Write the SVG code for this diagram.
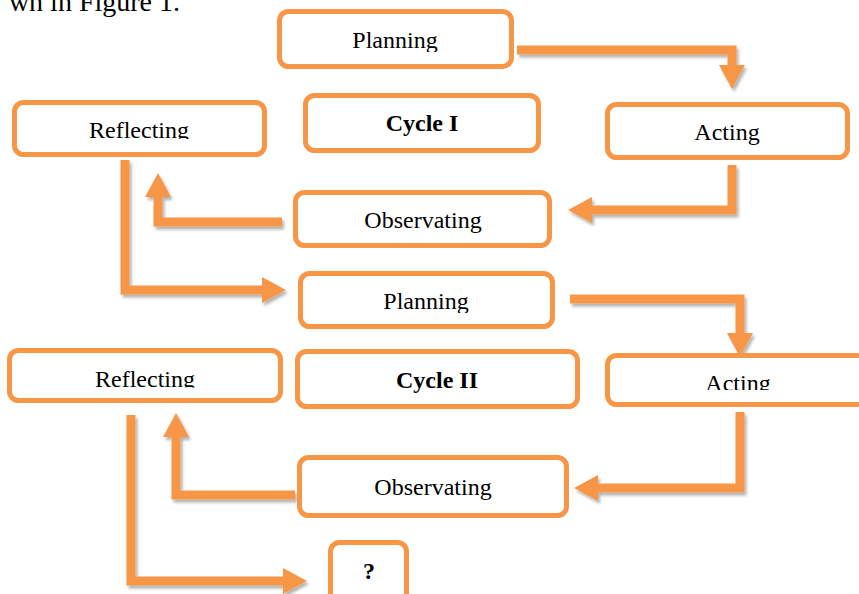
<svg xmlns="http://www.w3.org/2000/svg" width="859" height="594" viewBox="0 0 859 594">
<style>
.box{fill:#fff;stroke:#F79646;stroke-width:5}
.t{font-family:"Liberation Serif","Times New Roman",serif;font-size:24px;fill:#000;text-anchor:middle}
.b{font-weight:bold}
.c{fill:none;stroke:#F79646;stroke-width:9;stroke-linejoin:miter}
</style>
<defs>
<marker id="ah" viewBox="0 0 24 26" refX="0" refY="13" markerWidth="24" markerHeight="26" markerUnits="userSpaceOnUse" orient="auto">
<path d="M0,0 L24,13 L0,26 Z" fill="#F79646"/>
</marker>
<filter id="sh" x="-10%" y="-10%" width="130%" height="130%">
<feDropShadow dx="2" dy="3" stdDeviation="1.5" flood-color="#000" flood-opacity="0.3"/>
</filter>
<clipPath id="cp1"><rect x="280" y="12" width="230" height="40"/></clipPath>
<clipPath id="cr1"><rect x="15" y="100" width="250" height="39"/></clipPath>
<clipPath id="co1"><rect x="295" y="190" width="255" height="41.5"/></clipPath>
<clipPath id="cp2"><rect x="300" y="271" width="253" height="42"/></clipPath>
<clipPath id="cr2"><rect x="10" y="348" width="270" height="39.5"/></clipPath>
<clipPath id="ca2"><rect x="608" y="353" width="251" height="37"/></clipPath>
</defs>
<rect width="859" height="594" fill="#fff"/>
<text class="t" x="180" y="11" style="font-size:28px;text-anchor:end">wn in Figure 1.</text>
<g id="connectors" filter="url(#sh)">
<path class="c" d="M517,50 H732 V65" marker-end="url(#ah)"/>
<path class="c" d="M732,165 V210 H592" marker-end="url(#ah)"/>
<path class="c" d="M282,222 H158 V197" marker-end="url(#ah)"/>
<path class="c" d="M125,160 V290 H262" marker-end="url(#ah)"/>
<path class="c" d="M570,299 H740 V333" marker-end="url(#ah)"/>
<path class="c" d="M740,412 V488 H598" marker-end="url(#ah)"/>
<path class="c" d="M295,495 H176 V437" marker-end="url(#ah)"/>
<path class="c" d="M131,415 V581 H283" marker-end="url(#ah)"/>
</g>
<g id="planning1"><rect class="box" x="279.5" y="11.5" width="232" height="55" rx="9"/><text class="t" x="395" y="48" clip-path="url(#cp1)">Planning</text></g>
<g id="reflecting1"><rect class="box" x="14.5" y="102.5" width="250" height="52" rx="9"/><text class="t" x="139" y="138" clip-path="url(#cr1)">Reflecting</text></g>
<g id="cycle1"><rect class="box" x="305.5" y="95.5" width="233" height="55" rx="9"/><text class="t b" x="422" y="131">Cycle I</text></g>
<g id="acting1"><rect class="box" x="607.5" y="104.5" width="240" height="53" rx="9"/><text class="t" x="727" y="140">Acting</text></g>
<g id="observating1"><rect class="box" x="295.5" y="192.5" width="254" height="53" rx="9"/><text class="t" x="423" y="228">Observating</text></g>
<g id="planning2"><rect class="box" x="300.5" y="273.5" width="252" height="53" rx="9"/><text class="t" x="426" y="309" clip-path="url(#cp2)">Planning</text></g>
<g id="reflecting2"><rect class="box" x="9.5" y="350.5" width="271" height="50" rx="9"/><text class="t" x="145" y="386.5" clip-path="url(#cr2)">Reflecting</text></g>
<g id="cycle2"><rect class="box" x="297.5" y="351.5" width="280" height="55" rx="9"/><text class="t b" x="437" y="388">Cycle II</text></g>
<g id="acting2"><rect class="box" x="607.5" y="355.5" width="270" height="49" rx="9"/><text class="t" x="738" y="391" clip-path="url(#ca2)">Acting</text></g>
<g id="observating2"><rect class="box" x="299.5" y="457.5" width="267" height="58" rx="9"/><text class="t" x="433" y="495">Observating</text></g>
<g id="question"><rect class="box" x="330.5" y="542.5" width="76" height="60" rx="9"/><text class="t b" x="369" y="579">?</text></g>
</svg>
